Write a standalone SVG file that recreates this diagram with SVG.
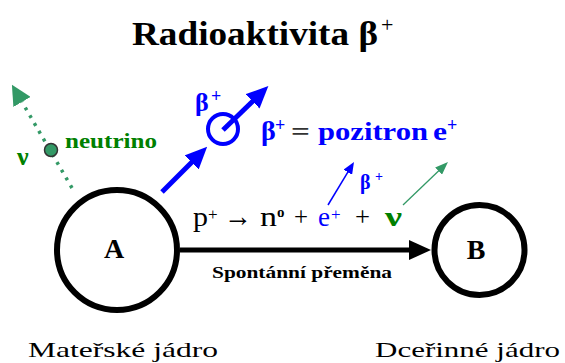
<svg xmlns="http://www.w3.org/2000/svg" width="565" height="363" viewBox="0 0 565 363">
<style>
.serif{font-family:"Liberation Serif","Times New Roman",serif}
.b{font-weight:bold}
.blue{fill:#0000ff}
.green{fill:#008000}
.nuc{fill:#ffffff;stroke:#000000;stroke-width:6}
.lbl{font-family:"Liberation Serif","Times New Roman",serif;font-size:22px;fill:#000}
</style>
<defs>
<marker id="hBlack" viewBox="0 0 22 20" refX="2" refY="10" markerWidth="22" markerHeight="20" markerUnits="userSpaceOnUse" orient="auto"><path d="M0,0 L22,10 L0,20 z" fill="#000"/></marker>
<marker id="hBlue" viewBox="0 0 22 20" refX="2" refY="10" markerWidth="22" markerHeight="20" markerUnits="userSpaceOnUse" orient="auto"><path d="M0,0 L22,10 L0,20 z" fill="#0000ff"/></marker>
<marker id="hBlueS" viewBox="0 0 12 10" refX="1" refY="5" markerWidth="12" markerHeight="10" markerUnits="userSpaceOnUse" orient="auto"><path d="M0,0 L12,5 L0,10 z" fill="#0000ff"/></marker>
<marker id="hGreenS" viewBox="0 0 13 10" refX="1" refY="5" markerWidth="13" markerHeight="10" markerUnits="userSpaceOnUse" orient="auto"><path d="M0,0 L13,5 L0,10 z" fill="#339966"/></marker>
<marker id="hGreen" viewBox="0 0 20 20" refX="0" refY="10" markerWidth="20" markerHeight="20" markerUnits="userSpaceOnUse" orient="auto"><path d="M0,0 L20,10 L0,20 z" fill="#339966"/></marker>
</defs>

<text class="serif b" x="132" y="45" font-size="34" textLength="246" lengthAdjust="spacingAndGlyphs">Radioaktivita β</text>
<text class="serif" x="381" y="32" font-size="22">+</text>

<g id="connectors">
<line x1="180" y1="250" x2="411" y2="250" stroke="#000" stroke-width="5" marker-end="url(#hBlack)"/>
<line x1="162" y1="192" x2="193" y2="161" stroke="#0000ff" stroke-width="5" marker-end="url(#hBlue)"/>
<line x1="223" y1="130" x2="254" y2="100" stroke="#0000ff" stroke-width="5" marker-end="url(#hBlue)"/>
<line x1="328" y1="205" x2="348.3" y2="171.4" stroke="#0000ff" stroke-width="1.5" marker-end="url(#hBlueS)"/>
<line x1="403" y1="205" x2="439.3" y2="170.3" stroke="#339966" stroke-width="1.3" marker-end="url(#hGreenS)"/>
<line x1="72" y1="188" x2="22" y2="102" stroke="#339966" stroke-width="3.5" stroke-dasharray="3 6" marker-end="url(#hGreen)"/>
</g>

<g id="nodeA">
<circle class="nuc" cx="117" cy="250" r="60"/>
<text class="serif b" x="114" y="258" font-size="28" text-anchor="middle">A</text>
</g>
<g id="nodeB">
<circle class="nuc" cx="479.5" cy="250" r="45"/>
<text class="serif b" x="476" y="259" font-size="28" text-anchor="middle">B</text>
</g>

<g id="positron">
<circle cx="223" cy="129" r="15" fill="none" stroke="#0000ff" stroke-width="4"/>
<text class="serif b blue" x="195" y="111" font-size="26">β</text>
<text class="serif b blue" x="211" y="102" font-size="18">+</text>
</g>

<g id="positronLabel">
<text class="serif b blue" x="261" y="140" font-size="28">β</text>
<text class="serif b blue" x="275" y="131" font-size="18">+</text>
<text class="serif b" x="291" y="140" font-size="26" fill="#333" textLength="19" lengthAdjust="spacingAndGlyphs">=</text>
<text class="serif b blue" x="318" y="140" font-size="26" textLength="110" lengthAdjust="spacingAndGlyphs">pozitron</text>
<text class="serif b blue" x="433" y="140" font-size="26" textLength="14" lengthAdjust="spacingAndGlyphs">e</text>
<text class="serif b blue" x="447" y="131" font-size="18">+</text>
</g>

<g id="neutrino">
<circle cx="51" cy="150" r="6.5" fill="#339966" stroke="#333" stroke-width="1.5"/>
<text class="serif b green" x="65" y="148" font-size="20" textLength="92" lengthAdjust="spacingAndGlyphs">neutrino</text>
<text class="serif b green" x="17" y="165" font-size="26">ν</text>
</g>

<g id="equation">
<text class="serif" x="193" y="226" font-size="28" textLength="15" lengthAdjust="spacingAndGlyphs">p</text>
<text class="serif" x="208" y="220" font-size="17">+</text>
<text class="serif" x="224" y="226" font-size="30" textLength="28" lengthAdjust="spacingAndGlyphs">→</text>
<text class="serif" x="260" y="226" font-size="28" textLength="17" lengthAdjust="spacingAndGlyphs">n</text>
<text class="serif b" x="277" y="217" font-size="15">o</text>
<text class="serif" x="294" y="226" font-size="28" textLength="14" lengthAdjust="spacingAndGlyphs">+</text>
<text class="serif blue" x="318" y="226" font-size="28" textLength="12" lengthAdjust="spacingAndGlyphs">e</text>
<text class="serif blue" x="331" y="220" font-size="17">+</text>
<text class="serif" x="355" y="226" font-size="28" textLength="15" lengthAdjust="spacingAndGlyphs">+</text>
<text class="serif b green" x="385" y="226" font-size="28" textLength="17" lengthAdjust="spacingAndGlyphs">ν</text>
<text class="serif b blue" x="360" y="189" font-size="20">β</text>
<text class="serif b blue" x="375" y="181" font-size="14">+</text>
</g>

<text class="serif b" x="212" y="278" font-size="16" textLength="180" lengthAdjust="spacingAndGlyphs">Spontánní přeměna</text>

<text class="lbl" x="28" y="357" textLength="190" lengthAdjust="spacingAndGlyphs">Mateřské jádro</text>
<text class="lbl" x="375" y="357" textLength="185" lengthAdjust="spacingAndGlyphs">Dceřinné jádro</text>
</svg>
